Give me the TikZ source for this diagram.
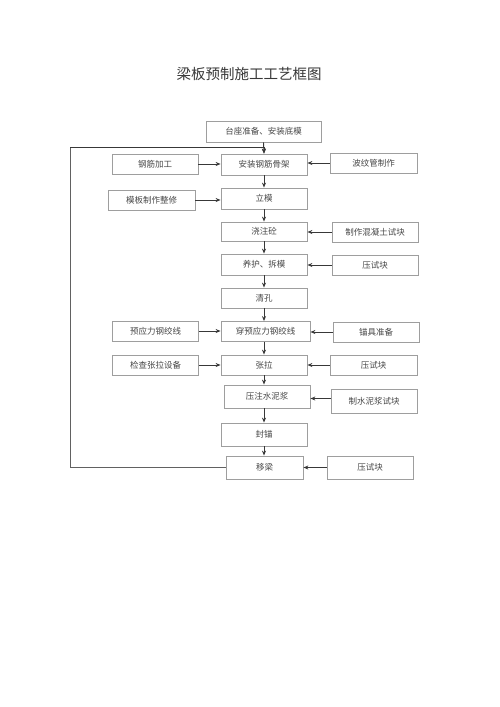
\documentclass[tikz,border=0pt]{standalone}
\usepackage{fontspec}
\setmainfont{Noto Sans CJK SC}
\usetikzlibrary{arrows.meta}
\begin{document}
\begin{tikzpicture}[x=1pt,y=-1pt,
  box/.style={draw=black!38,line width=0.8pt,fill=white,inner sep=0pt,
    minimum width=86pt,minimum height=20pt,font=\fontsize{8.5}{10}\selectfont,text=black!72},
  arr/.style={draw=black!78,line width=0.9pt,-{Stealth[length=5pt,width=4pt]}},
  lnk/.style={draw=black!62,line width=0.9pt}]
\useasboundingbox[fill=white] (0,0) rectangle (500,707);
\node[font=\fontsize{14.5}{16}\selectfont,text=black!78] (title) at (249,74) {梁板预制施工工艺框图};
% main column
\node[box,minimum width=115pt,minimum height=21pt] (top) at (263.5,131.5) {台座准备、安装底模};
\node[box,minimum height=21pt] (gjgj) at (264,164.5) {安装钢筋骨架};
\node[box,minimum height=21pt] (lm) at (264,198.5) {立模};
\node[box,minimum height=19pt] (jzt) at (264,231.5) {浇注砼};
\node[box,minimum height=21pt] (yh) at (264,264.5) {养护、拆模};
\node[box] (qk) at (264,298) {清孔};
\node[box,minimum width=89pt] (cyyl) at (265.5,331.5) {穿预应力钢绞线};
\node[box] (zl) at (264,365) {张拉};
\node[box,minimum height=23pt] (yzsnj) at (267,396.5) {压注水泥浆};
\node[box,minimum height=23pt] (fm) at (264,434.5) {封锚};
\node[box,minimum width=77pt,minimum height=23pt] (yl) at (264.5,467.5) {移梁};
% left column
\node[box] (gjjg) at (155,164) {钢筋加工};
\node[box,minimum width=87pt] (mbzz) at (151.5,200) {模板制作整修};
\node[box] (yyl) at (155.5,331) {预应力钢绞线};
\node[box] (jczl) at (155.5,365) {检查张拉设备};
% right column
\node[box,minimum width=87pt] (bwg) at (373.5,163) {波纹管制作};
\node[box] (zzhnt) at (375,232) {制作混凝土试块};
\node[box] (ysk1) at (375,265) {压试块};
\node[box] (mjzb) at (376,332) {锚具准备};
\node[box,minimum width=87pt] (ysk2) at (373.5,365) {压试块};
\node[box,minimum height=24pt] (zsnj) at (374,401) {制水泥浆试块};
\node[box,minimum height=23pt] (ysk3) at (370,467.5) {压试块};
% vertical arrows
\draw[arr] (top.south) -- (gjgj.north);
\draw[arr] (gjgj.south) -- (lm.north);
\draw[arr] (lm.south) -- (jzt.north);
\draw[arr] (jzt.south) -- (yh.north);
\draw[arr] (yh.south) -- (qk.north);
\draw[arr] (qk.south) -- (qk.south|-cyyl.north);
\draw[arr] (cyyl.south-|zl.north) -- (zl.north);
\draw[arr] (zl.south) -- (zl.south|-yzsnj.north);
\draw[arr] (yzsnj.south-|fm.north) -- (fm.north);
\draw[arr] (fm.south) -- (fm.south|-yl.north);
% horizontal arrows from left
\draw[arr] (gjjg.east) -- (gjjg.east-|gjgj.west);
\draw[arr] (mbzz.east) -- (mbzz.east-|lm.west);
\draw[arr] (yyl.east) -- (yyl.east-|cyyl.west);
\draw[arr] (jczl.east) -- (jczl.east-|zl.west);
% horizontal arrows from right
\draw[arr] (bwg.west) -- (bwg.west-|gjgj.east);
\draw[arr] (zzhnt.west) -- (zzhnt.west-|jzt.east);
\draw[arr] (ysk1.west) -- (ysk1.west-|yh.east);
\draw[arr] (mjzb.west) -- (mjzb.west-|cyyl.east);
\draw[arr] (ysk2.west) -- (ysk2.west-|zl.east);
\coordinate (zin) at (350,398.5);
\draw[arr] (zin-|zsnj.west) -- (zin-|yzsnj.east);
\draw[arr] (ysk3.west) -- (ysk3.west-|yl.east);
% loop back
\coordinate (lc) at (70,147);
\draw[lnk] (yl.west) -| (lc);
\draw[arr] (lc) -| (gjgj.north);
\end{tikzpicture}
\end{document}
